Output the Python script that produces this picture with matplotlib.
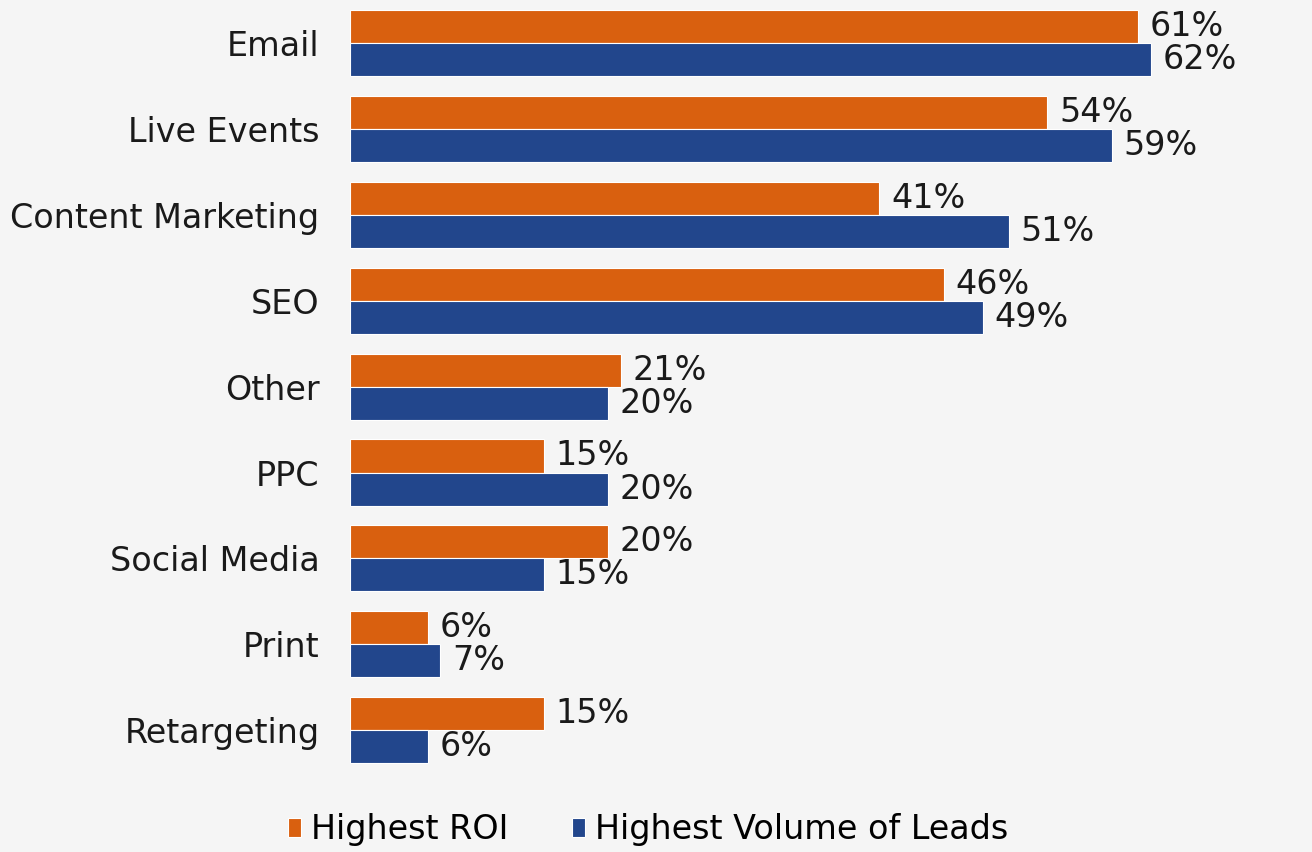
import matplotlib.pyplot as plt
import numpy as np

# channels and survey values (percent)
channels = ["Email", "Live Events", "Content Marketing", "SEO", "Other",
            "PPC", "Social Media", "Print", "Retargeting"]
roi = [61, 54, 41, 46, 21, 15, 20, 6, 15]
leads = [62, 59, 51, 49, 20, 20, 15, 7, 6]

orange = "#D9600F"
blue = "#22468C"
bg = "#F5F5F5"

fig = plt.figure(figsize=(13.12, 8.52), dpi=100, facecolor=bg)
ax = fig.add_axes([0.2668, 0.0927, 0.7332, 0.907])
ax.set_facecolor(bg)

y = np.arange(len(channels))
h = 0.385
b1 = ax.barh(y - h / 2, roi, height=h, color=orange, edgecolor="white", linewidth=0.8,
             label="Highest ROI")
b2 = ax.barh(y + h / 2, leads, height=h, color=blue, edgecolor="white", linewidth=0.8,
             label="Highest Volume of Leads")

# percent labels at the bar ends
for bars, vals in [(b1, roi), (b2, leads)]:
    for bar, v in zip(bars, vals):
        ax.text(bar.get_width() + 0.9, bar.get_y() + bar.get_height() / 2, f"{v}%",
                va="center", ha="left", fontsize=24, color="#1a1a1a")

ax.set_xlim(0, 74.5)
ax.set_ylim(8.5, -0.5)
ax.set_yticks(y)
ax.set_yticklabels(channels, fontsize=24, color="#1a1a1a")
ax.tick_params(axis="y", length=0, pad=22)
ax.set_xticks([])
for s in ax.spines.values():
    s.set_visible(False)

fig.legend(handles=[b1, b2], loc="center", bbox_to_anchor=(0.494, 0.026), ncol=2,
           frameon=False, fontsize=24, handlelength=0.4, handleheight=0.5,
           handletextpad=0.3, columnspacing=1.9)

fig.savefig("out.png", dpi=100, facecolor=bg)
